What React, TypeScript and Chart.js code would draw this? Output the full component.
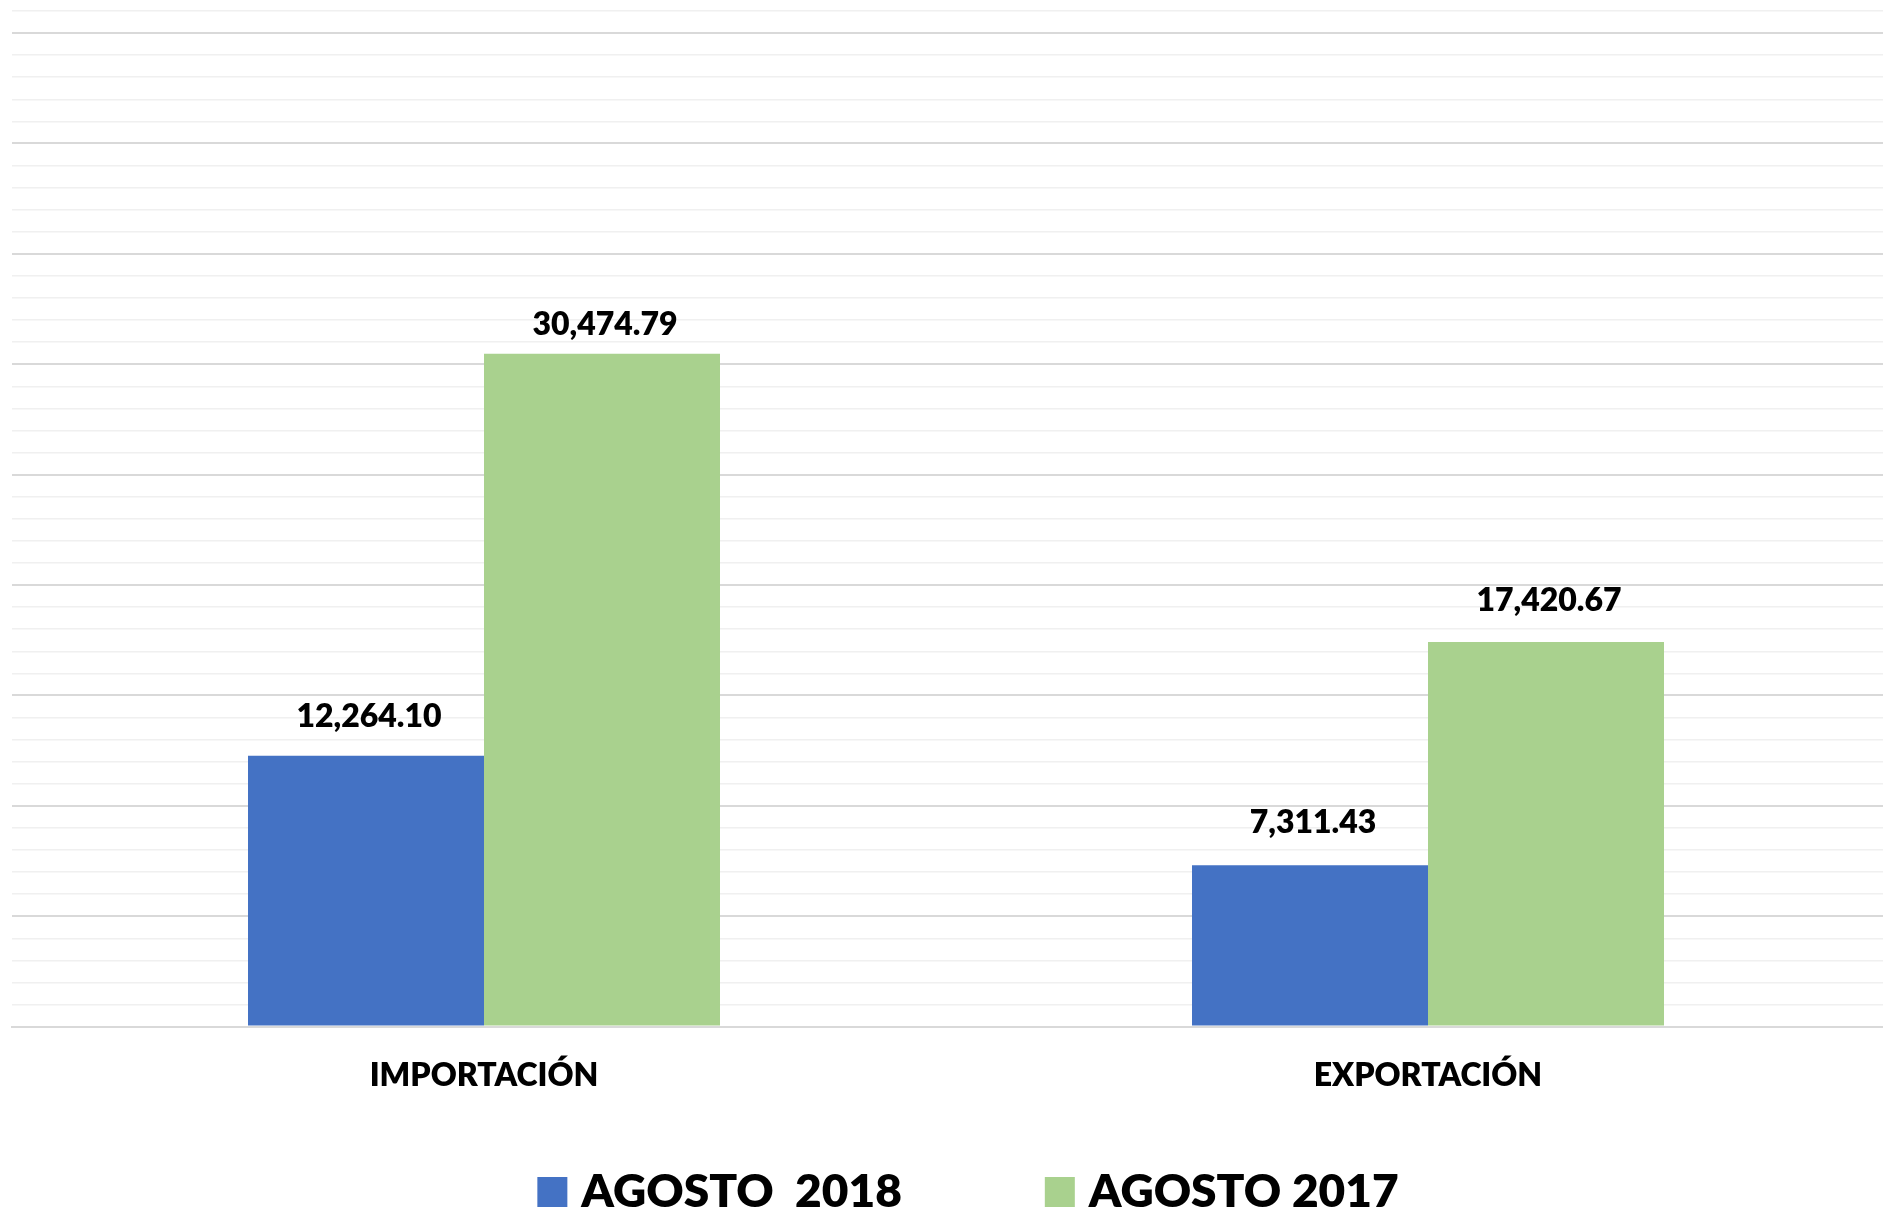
import React, { useEffect, useRef } from 'react';
import { Chart, registerables } from 'chart.js';

Chart.register(...registerables);

const categories = ['IMPORTACIÓN', 'EXPORTACIÓN'];
const seriesNames = ['AGOSTO  2018', 'AGOSTO 2017'];
const agosto2018 = [12264.1, 7311.43];
const agosto2017 = [30474.79, 17420.67];
const seriesColors = ['#4472C4', '#A9D18E'];
const yMin = 0;
const yMax = 46000;
const yStep = 1000;
const majorStep = 5000;

// gap (px) between each bar's top and its value label baseline, per series
const labelGaps = [
  [29, 32],
  [19, 31],
];

const FONT = 'Lato, "Open Sans", "DejaVu Sans", sans-serif';
const WEIGHT = '800';

const fmt = (v: number) =>
  v.toLocaleString('en-US', { minimumFractionDigits: 2, maximumFractionDigits: 2 });

const valueLabels = {
  id: 'valueLabels',
  afterDatasetsDraw(chart: any) {
    const ctx = chart.ctx;
    ctx.save();
    ctx.font = `${WEIGHT} 32px ${FONT}`;
    ctx.fillStyle = '#000000';
    ctx.textAlign = 'center';
    ctx.textBaseline = 'alphabetic';
    chart.data.datasets.forEach((ds: any, i: number) => {
      const meta = chart.getDatasetMeta(i);
      meta.data.forEach((bar: any, j: number) => {
        ctx.fillText(fmt(ds.data[j]), bar.x + 3, bar.y - labelGaps[i][j]);
      });
    });
    ctx.restore();
  },
};

const bottomLegend = {
  id: 'bottomLegend',
  afterDraw(chart: any) {
    const ctx = chart.ctx;
    const xScale = chart.scales.x;
    ctx.save();
    ctx.font = `${WEIGHT} 46px ${FONT}`;
    const box = 30;
    const gap = 14;
    const itemGap = 143;
    const items = chart.data.datasets.map((d: any) => ({
      text: d.label as string,
      color: d.backgroundColor as string,
      w: ctx.measureText(d.label).width,
    }));
    const total =
      items.reduce((s: number, it: any) => s + box + gap + it.w, 0) + itemGap * (items.length - 1);
    let x = chart.width / 2 - total / 2;
    const boxTop = xScale.bottom + 52;
    ctx.textBaseline = 'alphabetic';
    ctx.textAlign = 'left';
    items.forEach((it: any) => {
      ctx.fillStyle = it.color;
      ctx.fillRect(x, boxTop, box, box);
      x += box + gap;
      ctx.fillStyle = '#000000';
      ctx.fillText(it.text, x, boxTop + box);
      x += it.w + itemGap;
    });
    ctx.restore();
  },
};

export default function App() {
  const canvasRef = useRef<HTMLCanvasElement | null>(null);

  useEffect(() => {
    if (!canvasRef.current) return;
    const chart = new Chart(canvasRef.current, {
      type: 'bar',
      data: {
        labels: categories,
        datasets: [
          {
            label: seriesNames[0],
            data: agosto2018,
            backgroundColor: seriesColors[0],
            barPercentage: 1,
            categoryPercentage: 0.5,
          },
          {
            label: seriesNames[1],
            data: agosto2017,
            backgroundColor: seriesColors[1],
            barPercentage: 1,
            categoryPercentage: 0.5,
          },
        ],
      },
      options: {
        responsive: false,
        animation: false,
        layout: { padding: { left: 12, right: 36, top: 11, bottom: 86 } },
        plugins: {
          legend: { display: false },
          tooltip: { enabled: false },
        },
        scales: {
          x: {
            grid: { display: false, drawTicks: false },
            border: { display: true, color: '#d9d9d9', width: 2 },
            ticks: {
              color: '#000000',
              padding: 30,
              font: { family: FONT, size: 32, weight: WEIGHT },
            },
          },
          y: {
            min: yMin,
            max: yMax,
            ticks: { display: false, stepSize: yStep },
            border: { display: false },
            grid: {
              drawTicks: false,
              color: (c: any) => (c.tick && c.tick.value % majorStep === 0 ? '#d9d9d9' : '#f0f0f0'),
              lineWidth: (c: any) => (c.tick && c.tick.value % majorStep === 0 ? 2 : 1.5),
            },
          },
        },
      },
      plugins: [valueLabels, bottomLegend],
    });
    let alive = true;
    if ((document as any).fonts) {
      (document as any).fonts.load(`${WEIGHT} 30px Lato`).then(() => {
        if (alive) chart.update();
      });
    }
    return () => {
      alive = false;
      chart.destroy();
    };
  }, []);

  return (
    <div
      style={{
        position: 'fixed',
        left: 0,
        top: 0,
        width: 1883,
        height: 1211,
        overflow: 'hidden',
        background: '#ffffff',
      }}
    >
      <canvas ref={canvasRef} width={1936} height={1211} style={{ display: 'block' }} />
    </div>
  );
}
